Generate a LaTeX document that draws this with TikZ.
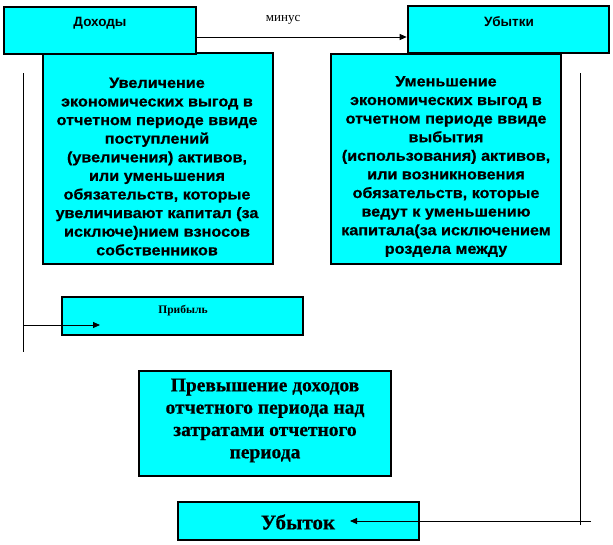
\documentclass[tikz,border=0pt]{standalone}
\usepackage{fontspec}
\setmainfont{Liberation Serif}
\newfontfamily\arial{Liberation Sans}
\newfontfamily\arialw[FakeStretch=1.08,FakeBold=0.6]{Liberation Sans Bold}
\newfontfamily\timesw[FakeBold=0.5]{Liberation Serif Bold}
\usetikzlibrary{arrows.meta}
\definecolor{boxcyan}{RGB}{0,255,255}
\begin{document}
\begin{tikzpicture}[x=1pt,y=-1pt,
 box/.style={draw=black,fill=boxcyan,line width=2.6pt,inner sep=0pt},
 conn/.style={line width=0.9pt,-{Triangle[length=7pt,width=6pt]}},
 plain/.style={line width=0.9pt},
 bigtxt/.style={font=\arialw\fontsize{15}{18.6}\selectfont,align=center,inner sep=0pt},
 headtxt/.style={font=\arial\bfseries\fontsize{13.5}{15}\selectfont,inner sep=0pt},
]
\useasboundingbox (0,0) rectangle (613,544);
\fill[white] (0,0) rectangle (613,544);
% boxes
\node[box,minimum width=230pt,minimum height=211pt] (lbox) at (158,158.5) {};
\node[box,minimum width=230pt,minimum height=210pt] (rbox) at (446,159) {};
\node[box,minimum width=192pt,minimum height=47pt] (dohody) at (100,30.5) {};
\node[box,minimum width=201pt,minimum height=47pt] (ubytki) at (508.5,29.5) {};
\node[box,minimum width=241pt,minimum height=38pt] (pribyl) at (182.5,316) {};
\node[box,minimum width=252pt,minimum height=105pt] (prev) at (265,423.5) {};
\node[box,minimum width=241pt,minimum height=38pt] (ubytok) at (298.5,521) {};
% texts
\node[headtxt] (tdoh) at (100,23) {Доходы};
\node[headtxt] (tubt) at (509,22) {Убытки};
\node[bigtxt] (tl) at (157,166.5) {Увеличение\\экономических выгод в\\отчетном периоде ввиде\\поступлений\\(увеличения) активов,\\или уменьшения\\обязательств, которые\\увеличивают капитал (за\\исключе)нием взносов\\собственников};
\node[bigtxt] (tr) at (446,166.5) {Уменьшение\\экономических выгод в\\отчетном периоде ввиде\\выбытия\\(использования) активов,\\или возникновения\\обязательств, которые\\ведут к уменьшению\\капитала(за исключением\\роздела между};
\node[font=\bfseries\fontsize{11.5}{13}\selectfont,inner sep=0pt] (tpr) at (183,311) {Прибыль};
\node[font=\timesw\fontsize{19.5}{22.3}\selectfont,align=center,inner sep=0pt] (tprev) at (265,420.5) {Превышение доходов\\отчетного периода над\\затратами отчетного\\периода};
\node[font=\timesw\fontsize{21}{24}\selectfont,inner sep=0pt] (tubk) at (298,522) {Убыток};
% connectors
\draw[conn] (dohody.east |- 0,37) -- (ubytki.west |- 0,37)
  node[pos=0.41,above=12pt,font=\fontsize{13}{15}\selectfont,inner sep=0pt] (minus) {минус};
\coordinate (lt) at (23,73);
\coordinate (lb) at (23,352);
\coordinate (lp) at (23,325);
\coordinate (pe) at (100,325);
\draw[plain] (lt) -- (lb);
\draw[conn] (lp) -- (pe);
\coordinate (rt) at (580,73);
\coordinate (rb) at (580,525);
\coordinate (rs) at (591,521);
\coordinate (ue) at (350,521);
\draw[plain] (rt) -- (rb);
\draw[conn] (rs) -- (ue);
\end{tikzpicture}
\end{document}
